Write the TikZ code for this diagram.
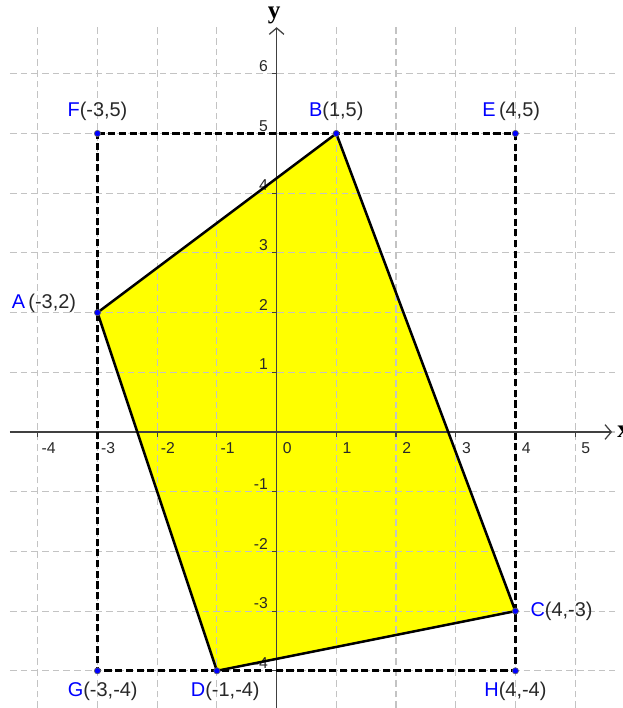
\documentclass[tikz,border=0pt]{standalone}
\usepackage{fontspec}
\setmainfont{Liberation Sans}
\newfontfamily\axisfont{Liberation Serif}
\usetikzlibrary{arrows.meta}
\definecolor{gridgray}{RGB}{195,195,195}
\definecolor{ptblue}{RGB}{0,0,255}
\definecolor{quadyellow}{RGB}{255,255,0}
\definecolor{labelgray}{RGB}{40,40,40}
\definecolor{axisgray}{RGB}{64,64,64}

\begin{document}
\begin{tikzpicture}[
  gridline/.style={gridgray, line width=0.5pt, dash pattern=on 3.2pt off 1.9pt},
  ticklabel/.style={font=\fontsize{7.5}{9}\selectfont, text=labelgray, inner sep=0pt},
  ptlabel/.style={font=\fontsize{9.5}{11}\selectfont, text=labelgray, inner sep=0pt},
  boxline/.style={line width=1.3pt, dash pattern=on 3.4pt off 1.7pt},
  axislabel/.style={font=\axisfont\bfseries\fontsize{12}{14}\selectfont, inner sep=0pt}
]
  \useasboundingbox (-4.633,-4.623) rectangle (5.802,7.236);
  \coordinate (A) at (-3,2);
  \coordinate (B) at (1,5);
  \coordinate (C) at (4,-3);
  \coordinate (D) at (-1,-4);
  \coordinate (E) at (4,5);
  \coordinate (F) at (-3,5);
  \coordinate (G) at (-3,-4);
  \coordinate (H) at (4,-4);
  \fill[quadyellow] (A) -- (B) -- (C) -- (D) -- cycle;
  % grid
  \foreach \x in {-4,...,5} \draw[gridline] (\x,-4.623) -- (\x,6.784);
  \foreach \y in {-4,...,6} \draw[gridline] (-4.466,\y) -- (5.668,\y);
  % axes
  \coordinate (xstart) at (-4.466,0);
  \coordinate (xend) at (5.62,0);
  \coordinate (ystart) at (0,-4.623);
  \coordinate (yend) at (0,6.78);
  \draw[axisgray, line width=0.6pt, -{Straight Barb[length=3pt,width=7pt]}] (xstart) -- (xend);
  \draw[axisgray, line width=0.6pt, -{Straight Barb[length=3pt,width=7pt]}] (ystart) -- (yend);
  \node[axislabel, anchor=west] (xlab) at (5.70,0) {x};
  \node[axislabel] (ylab) at (-0.04,6.98) {y};
  \foreach \x in {-4,...,5} {
    \draw[axisgray, line width=0.5pt] (\x,0) -- (\x,-0.08);
    \node[ticklabel] (tx\x) at (\x+0.18,-0.27) {\x};
  }
  \foreach \y in {-4,...,-1,1,2,...,6} {
    \draw[axisgray, line width=0.5pt] (0,\y) -- (-0.08,\y);
    \node[ticklabel, anchor=east] (ty\y) at (-0.14,\y+0.13) {\y};
  }
  % dashed box and quadrilateral
  \draw[boxline] (F) -- (E) -- (H) -- (G) -- cycle;
  \draw[line width=1.2pt, line join=round] (A) -- (B) -- (C) -- (D) -- cycle;
  \foreach \p in {A,B,C,D,E,F,G,H}
    \fill[ptblue, draw=black!60, line width=0.3pt] (\p) circle (1.5pt);
  % point labels
  \node[ptlabel, above=6pt] (lF) at (F) {\textcolor{ptblue}{F}(-3,5)};
  \node[ptlabel, above=6pt] (lB) at (B) {\textcolor{ptblue}{B}(1,5)};
  \node[ptlabel, above=6pt, xshift=-2pt] (lE) at (E) {\textcolor{ptblue}{E}\,(4,5)};
  \node[ptlabel, left=10pt, yshift=4.5pt] (lA) at (A) {\textcolor{ptblue}{A}\,(-3,2)};
  \node[ptlabel, right=7pt] (lC) at (C) {\textcolor{ptblue}{C}(4,-3)};
  \node[ptlabel, below=5pt, xshift=2.5pt] (lG) at (G) {\textcolor{ptblue}{G}(-3,-4)};
  \node[ptlabel, below=5pt, xshift=4pt] (lD) at (D) {\textcolor{ptblue}{D}(-1,-4)};
  \node[ptlabel, below=5pt] (lH) at (H) {\textcolor{ptblue}{H}(4,-4)};
\end{tikzpicture}
\end{document}
